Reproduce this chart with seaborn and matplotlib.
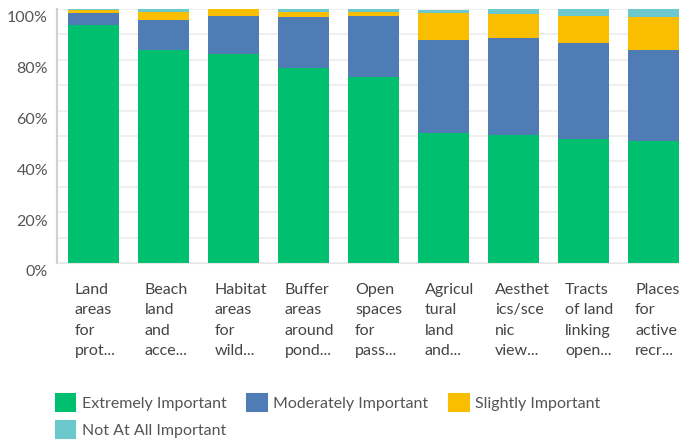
import numpy as np
import pandas as pd
import matplotlib
matplotlib.use('Agg')
import matplotlib.pyplot as plt
import matplotlib.transforms as mtransforms
from matplotlib.patches import Patch
import seaborn as sns

categories = ['Land\nareas\nfor\nprot...', 'Beach\nland\nand\nacce...', 'Habitat\nareas\nfor\nwild...',
              'Buffer\nareas\naround\npond...', 'Open\nspaces\nfor\npass...', 'Agricul\ntural\nland\nand...',
              'Aesthet\nics/sce\nnic\nview...', 'Tracts\nof land\nlinking\nopen...', 'Places\nfor\nactive\nrecr...']
extremely = [93.7, 83.9, 82.3, 76.8, 73.2, 51.2, 50.4, 48.8, 48.0]
moderately = [4.7, 11.8, 15.0, 20.0, 24.0, 36.6, 38.2, 37.8, 35.8]
slightly = [1.2, 3.3, 2.7, 2.0, 1.6, 10.6, 9.4, 10.6, 13.0]
not_at_all = [0.4, 1.0, 0.0, 1.2, 1.2, 1.2, 2.0, 2.8, 3.2]
series_names = ['Extremely Important', 'Moderately Important', 'Slightly Important', 'Not At All Important']
colors = ['#00BF6F', '#507CB6', '#F9BE00', '#6BC8CD']
ytick_vals = [0, 20, 40, 60, 80, 100]
ytick_labels = ['0%', '20%', '40%', '60%', '80%', '100%']

sns.set_style('whitegrid')
plt.rcParams['font.family'] = ['Lato', 'DejaVu Sans']

df = pd.DataFrame({'cat': categories, 'e': extremely, 'm': moderately, 's': slightly, 'n': not_at_all})
df['c1'] = df['e']
df['c2'] = df['c1'] + df['m']
df['c3'] = df['c2'] + df['s']
df['c4'] = df['c3'] + df['n']

fig = plt.figure(figsize=(6.79, 4.42), dpi=100)
ax = fig.add_axes([57/679, 1 - 263/442, 1 - 57/679, 254/442])

# cumulative totals drawn tallest first so each layer covers the one behind
for col, color in zip(['c4', 'c3', 'c2', 'c1'], colors[::-1]):
    sns.barplot(data=df, x='cat', y=col, color=color, width=0.73, saturation=1,
                linewidth=0, ax=ax, order=categories)

ax.set_xlim(-0.52, 8.364)
ax.set_ylim(0, 100)
ax.set_yticks(ytick_vals)
ax.set_yticks([10, 30, 50, 70, 90], minor=True)
ax.set_yticklabels(ytick_labels)
ax.set_xlabel('')
ax.set_ylabel('')
ax.grid(axis='y', which='both', color='#ececec', linewidth=1.2)
ax.grid(axis='x', visible=False)
ax.set_axisbelow(True)
for s in ['top', 'right']:
    ax.spines[s].set_visible(False)
ax.spines['left'].set_color('#d0d0d0')
ax.spines['left'].set_linewidth(1.5)
ax.spines['bottom'].set_color('#e6e6e6')

ax.tick_params(axis='y', which='both', length=0, pad=6.5, labelsize=11.5, labelcolor='#555555')
yoff = mtransforms.ScaledTranslation(0, -8/100, fig.dpi_scale_trans)
for lab in ax.get_yticklabels():
    lab.set_transform(lab.get_transform() + yoff)
ax.tick_params(axis='x', length=0, pad=14.5, labelsize=11.5, labelcolor='#444444')
xoff = mtransforms.ScaledTranslation(-18.5/100, 0, fig.dpi_scale_trans)
for lab in ax.get_xticklabels():
    lab.set_ha('left')
    lab.set_linespacing(1.57)
    lab.set_transform(lab.get_transform() + xoff)

# legend filled column by column, so reorder to read row by row
order = [0, 3, 1, 2]
handles = [Patch(facecolor=colors[i], edgecolor=colors[i], linewidth=1.5, joinstyle='round') for i in order]
labels = [series_names[i] for i in order]
fig.legend(handles, labels, loc='upper left', bbox_to_anchor=(56/679, 1 - 394/442),
           ncol=3, frameon=False, fontsize=11.5, handlelength=1.22, handleheight=1.3,
           handletextpad=0.4, columnspacing=1.3, labelspacing=0.6, labelcolor='#555555',
           borderaxespad=0, borderpad=0)

fig.savefig('out.png', dpi=100)
